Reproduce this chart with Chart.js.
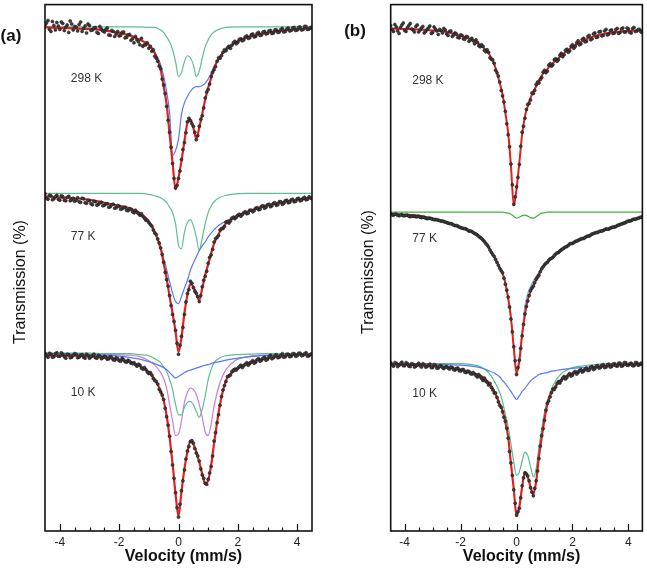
<!DOCTYPE html>
<html>
<head>
<meta charset="utf-8">
<script src="https://cdn.jsdelivr.net/npm/chart.js@4.4.1/dist/chart.umd.min.js"></script>
<style>
  html, body { margin: 0; padding: 0; background: #fff; }
  #wrap { position: relative; width: 647px; height: 568px; overflow: hidden; }
  canvas { position: absolute; top: 0; }
  #chartA { left: 0; }
  #chartB { left: 330px; }
</style>
</head>
<body>
<div id="wrap">
  <canvas id="chartA" width="330" height="568"></canvas>
  <canvas id="chartB" width="317" height="568"></canvas>
</div>
<script>
// velocity channels of the measured points (mm/s)
const velocity = [
  -4.5,-4.4,-4.3,-4.2,-4.1,-4.0,-3.9,-3.8,-3.7,-3.6,
  -3.5,-3.4,-3.3,-3.2,-3.1,-3.0,-2.9,-2.8,-2.7,-2.6,
  -2.5,-2.4,-2.3,-2.2,-2.1,-2.0,-1.9,-1.8,-1.7,-1.6,
  -1.5,-1.4,-1.3,-1.2,-1.1,-1.0,-0.9,-0.8,-0.7,-0.6,
  -0.5,-0.4,-0.3,-0.2,-0.1,0.0,0.1,0.2,0.3,0.4,
  0.5,0.6,0.7,0.8,0.9,1.0,1.1,1.2,1.3,1.4,
  1.5,1.6,1.7,1.8,1.9,2.0,2.1,2.2,2.3,2.4,
  2.5,2.6,2.7,2.8,2.9,3.0,3.1,3.2,3.3,3.4,
  3.5,3.6,3.7,3.8,3.9,4.0,4.1,4.2,4.3,4.4,
  4.5
];
// the in-between channels
const velocityHalf = [
  -4.45,-4.35,-4.25,-4.15,-4.05,-3.95,-3.85,-3.75,-3.65,-3.55,
  -3.45,-3.35,-3.25,-3.15,-3.05,-2.95,-2.85,-2.75,-2.65,-2.55,
  -2.45,-2.35,-2.25,-2.15,-2.05,-1.95,-1.85,-1.75,-1.65,-1.55,
  -1.45,-1.35,-1.25,-1.15,-1.05,-0.95,-0.85,-0.75,-0.65,-0.55,
  -0.45,-0.35,-0.25,-0.15,-0.05,0.05,0.15,0.25,0.35,0.45,
  0.55,0.65,0.75,0.85,0.95,1.05,1.15,1.25,1.35,1.45,
  1.55,1.65,1.75,1.85,1.95,2.05,2.15,2.25,2.35,2.45,
  2.55,2.65,2.75,2.85,2.95,3.05,3.15,3.25,3.35,3.45,
  3.55,3.65,3.75,3.85,3.95,4.05,4.15,4.25,4.35,4.45
];
// velocities where the fitted curves are sampled
const fitVelocity = [-4.5,-4,-3.5,-3,-2.5,-2,-1.6,-1.3,-1,-0.8,-0.6,-0.5,-0.4,-0.3,-0.2,-0.1,0,
  0.1,0.2,0.3,0.4,0.5,0.6,0.7,0.8,0.9,1,1.1,1.2,1.4,1.6,1.9,2.3,2.8,3.4,4,4.5];

// ---- (a) measured transmission, stacked (arb. units) ----
const dataA298 = [
  101.9,102.8,100.6,101.8,102.4,101.0,102.2,101.5,100.4,102.1,
  101.6,100.7,102.5,101.2,100.3,101.8,100.9,101.4,100.2,101.1,
  100.5,101.3,99.8,100.6,100.1,99.7,100.4,99.3,99.9,98.8,
  98.3,98.9,97.9,97.6,97.9,97.2,96.6,95.6,94.6,93.1,
  89.8,85.5,80.3,74.0,69.1,71.0,74.8,78.2,82.4,82.6,
  81.5,78.8,81.5,83.6,87.2,88.9,91.5,92.9,94.6,95.2,
  96.4,96.7,97.6,97.8,98.6,98.4,99.1,98.9,99.7,99.3,
  100.1,99.6,100.4,99.9,100.6,100.2,100.8,100.3,100.9,100.5,
  101.2,100.6,101.3,100.8,101.4,100.9,101.5,101.0,101.6,101.1,
  101.5
];
const dataA298h = [
  102.3,101.0,102.6,100.9,101.7,102.5,100.8,101.9,102.7,100.9,
  101.5,102.0,100.6,101.7,102.1,100.8,101.3,100.4,101.6,100.7,
  101.0,99.9,100.8,99.6,100.6,99.8,100.5,99.4,100.0,99.1,
  99.6,98.5,99.2,97.9,98.3,97.6,96.9,95.2,93.6,91.0,
  88.1,82.7,77.3,71.0,69.6,72.5,76.8,80.2,83.1,82.0,
  80.3,79.6,82.9,85.2,88.4,90.0,92.4,93.5,95.3,95.7,
  96.9,97.3,97.2,98.3,98.1,99.0,98.7,99.5,99.2,99.9,
  99.5,100.2,99.8,100.5,100.1,100.7,100.2,100.9,100.4,101.0,
  100.5,101.1,100.7,101.3,100.8,101.4,100.9,101.6,101.0,101.4
];
const dataA77 = [
  67.9,66.8,67.5,66.9,67.6,66.6,67.3,66.5,67.4,66.7,
  66.4,67.1,66.2,66.9,66.0,66.5,65.7,66.3,65.8,66.2,
  65.6,65.9,65.3,65.8,65.1,65.4,64.9,65.2,64.5,64.8,
  64.1,64.2,63.6,63.4,62.6,62.1,61.4,60.0,58.8,57.0,
  54.1,50.6,47.4,43.6,40.4,35.6,39.2,43.6,47.8,50.3,
  49.0,47.9,46.2,49.2,51.3,53.9,55.6,58.2,59.1,60.6,
  60.9,62.2,62.0,63.0,62.9,63.6,63.4,64.1,63.9,64.6,
  64.3,65.0,64.7,65.4,65.0,65.7,65.3,66.0,65.6,66.3,
  65.8,66.5,66.1,66.7,66.3,66.9,66.5,67.0,66.7,67.3,
  66.9
];
const dataA77h = [
  67.0,67.6,66.7,67.3,66.8,67.5,66.6,67.2,66.5,67.0,
  66.6,66.3,67.0,66.1,66.6,65.9,66.4,65.6,66.1,65.5,
  65.9,65.2,65.7,65.0,65.5,64.8,65.1,64.6,64.9,64.3,
  64.6,63.9,63.9,63.0,62.5,61.7,60.6,59.7,58.0,55.7,
  52.1,49.3,45.4,42.2,37.8,37.4,41.0,46.1,48.6,49.9,
  48.3,47.2,47.4,50.5,52.3,55.1,56.7,58.9,59.5,60.9,
  61.3,62.3,62.4,63.2,63.2,63.8,63.7,64.3,64.0,64.6,
  64.5,65.1,64.8,65.5,65.2,65.8,65.5,66.1,65.7,66.3,
  66.0,66.6,66.2,66.8,66.4,67.0,66.6,67.2,66.8,67.1
];
const dataA10 = [
  35.8,35.0,35.6,35.1,35.9,35.2,35.6,34.8,35.5,35.0,
  35.7,34.9,35.4,35.0,35.6,34.8,35.3,34.9,35.4,34.7,
  35.2,34.6,35.1,34.5,34.9,34.3,34.8,34.1,34.4,33.8,
  33.9,33.2,33.4,32.6,32.5,31.7,31.4,30.3,29.6,28.0,
  26.5,23.0,19.1,13.3,7.7,2.8,8.1,12.3,16.1,18.0,
  17.7,15.7,14.1,11.3,9.6,10.4,13.0,18.1,21.8,25.3,
  28.4,30.1,31.2,32.1,32.6,32.8,33.4,33.3,33.9,33.7,
  34.3,34.0,34.7,34.4,35.0,34.6,35.4,34.9,35.5,35.0,
  35.7,35.1,35.6,35.2,35.7,35.3,35.8,35.4,35.9,35.3,
  35.7
];
const dataA10h = [
  35.3,35.8,35.0,35.7,35.2,35.9,35.1,35.6,34.9,35.4,
  35.6,35.0,35.5,34.8,35.3,35.1,35.6,34.8,35.2,34.9,
  35.0,34.7,34.9,34.4,34.7,34.2,34.5,34.0,34.2,33.7,
  33.5,33.6,32.8,32.9,32.0,31.9,30.7,30.1,28.5,27.4,
  24.7,21.3,16.0,10.6,4.7,5.4,10.1,14.5,17.0,18.2,
  16.6,15.1,12.5,10.6,9.4,11.7,15.1,19.8,23.4,27.1,
  29.3,31.1,31.4,32.4,32.4,33.1,32.9,33.6,33.4,34.0,
  33.8,34.5,34.2,34.8,34.4,35.1,34.7,35.3,34.9,35.4,
  35.0,35.6,35.1,35.7,35.2,35.8,35.3,35.7,35.2,35.6
];
// ---- (a) fits ----
const fitA298   = [101.4,101.3,101.2,101.1,100.8,100.3,99.7,98.9,97.9,96.2,92.9,89.5,85.9,79.9,74.2,68.8,71.2,
  74.5,78.5,82.2,82.9,81.2,79.0,81.2,83.9,86.9,89.2,91.2,93.2,95.5,96.9,98.3,99.4,100.1,100.7,101.0,101.2];
const blueA298  = [101.4,101.3,101.2,101.1,100.8,100.3,99.7,98.9,98.0,96.5,93.9,91.5,88.5,84.2,75.6,76.6,78.9,
  83.9,86.2,87.5,88.5,89.2,89.5,89.5,89.7,90.2,91.0,92.2,93.5,95.7,96.9,98.3,99.4,100.1,100.7,101.0,101.2];
const greenA298 = [101.5,101.5,101.5,101.5,101.5,101.5,101.5,101.5,101.4,101.4,100.9,100.4,99.5,98.5,96.9,94.5,91.5,
  92.3,94.5,95.7,95.3,93.9,91.5,92.6,95.2,97.5,98.9,99.9,100.5,101.1,101.4,101.5,101.5,101.5,101.5,101.5,101.5];
const fitA77    = [67.4,67.2,67.0,66.7,66.1,65.5,64.9,64.0,62.3,60.2,56.9,53.9,50.9,47.2,43.9,40.2,36.0,
  38.9,43.9,47.5,49.7,49.2,47.7,46.5,48.9,51.5,53.7,55.9,57.9,60.3,61.9,63.3,64.2,65.3,66.1,66.7,67.1];
const blueA77   = [67.4,67.2,67.0,66.7,66.1,65.5,64.9,64.0,62.4,60.2,57.1,54.9,52.7,50.2,47.9,46.2,45.8,
  47.2,48.9,50.5,52.5,53.9,55.2,56.5,57.4,58.2,59.2,60.0,60.7,61.7,62.4,63.3,64.3,65.3,66.1,66.7,67.1];
const greenA77  = [68.0,68.0,68.0,68.0,68.0,68.0,68.0,68.0,67.8,67.5,67.1,66.7,66.1,65.2,64.1,61.9,57.6,
  56.8,60.2,62.1,62.7,61.5,59.2,56.5,59.0,61.9,64.1,65.4,66.3,67.2,67.6,67.9,68.0,68.0,68.0,68.0,68.0];
const fitA10    = [35.4,35.3,35.3,35.2,35.0,34.5,34.0,33.2,32.0,30.5,28.2,26.3,23.2,18.9,13.5,7.5,3.0,
  7.9,12.5,15.9,18.1,17.5,15.9,13.9,11.5,9.5,10.2,13.2,17.7,25.5,30.3,32.3,33.7,34.6,35.1,35.5,35.5];
const blueA10   = [35.7,35.7,35.6,35.5,35.4,35.2,34.9,34.6,34.1,33.7,33.2,32.9,32.5,31.9,31.3,30.8,31.1,
  31.5,31.9,32.2,32.4,32.6,32.8,33.0,33.2,33.4,33.5,33.7,33.9,34.1,34.4,34.7,35.0,35.3,35.4,35.5,35.5];
const greenA10  = [35.8,35.8,35.8,35.8,35.7,35.7,35.7,35.5,35.3,34.7,33.9,33.0,32.1,30.5,28.5,25.5,23.4,
  23.4,24.9,25.9,26.1,25.4,24.1,22.9,24.5,27.2,30.5,32.5,33.9,34.9,35.3,35.5,35.6,35.7,35.7,35.7,35.7];
const pinkA10   = [35.7,35.7,35.7,35.7,35.6,35.5,35.4,35.1,34.3,33.4,31.9,30.7,28.7,25.5,22.2,19.2,19.5,
  22.2,25.9,27.9,28.8,28.5,27.5,25.5,22.9,19.9,19.2,21.5,25.2,29.9,32.5,34.3,35.1,35.4,35.5,35.7,35.7];

// ---- (b) measured transmission ----
const dataB298 = [
  101.8,100.6,101.5,100.2,101.9,100.8,101.4,102.2,100.9,101.6,
  100.5,101.3,100.3,101.0,101.7,100.4,101.1,100.0,100.8,101.2,
  100.1,100.6,99.6,100.3,99.4,99.9,99.1,99.6,98.6,99.2,
  98.1,98.4,97.5,97.6,96.5,96.4,95.0,94.2,92.3,90.4,
  87.6,84.5,79.8,73.9,65.8,69.3,73.8,80.3,83.1,85.9,
  86.8,88.1,89.9,90.2,91.3,92.8,92.6,94.1,93.9,95.1,
  94.9,96.2,95.9,97.0,96.7,97.9,97.6,98.7,98.1,99.2,
  98.6,99.8,99.1,100.3,99.5,100.6,99.8,101.0,100.1,100.9,
  100.3,101.2,100.4,101.3,100.5,101.1,100.3,101.4,100.7,101.0,
  100.4
];
const dataB298h = [
  101.0,102.0,100.7,101.4,102.3,100.6,101.8,101.1,100.5,101.9,
  100.9,101.6,100.6,101.3,100.2,101.5,100.7,101.0,100.3,100.9,
  99.8,100.7,99.9,100.1,99.3,99.8,99.0,99.5,98.9,98.7,
  98.9,97.7,97.9,96.8,96.9,95.3,94.9,92.8,91.6,88.7,
  86.4,82.0,77.4,69.7,67.3,71.2,77.5,81.5,84.9,86.1,
  88.2,88.7,90.4,90.9,92.4,92.3,93.8,93.6,94.9,94.6,
  95.8,95.5,96.8,96.4,97.6,97.2,98.3,97.9,99.0,98.5,
  99.6,98.9,100.1,99.4,100.5,99.7,100.7,99.9,100.8,100.2,
  101.0,100.2,101.1,100.5,101.3,100.4,101.2,100.6,101.0,100.5
];
const dataB77 = [
  63.9,63.6,63.8,63.5,63.7,63.5,63.6,63.3,63.4,63.3,
  63.4,63.1,63.2,62.9,63.0,62.8,62.7,62.6,62.4,62.3,
  62.1,61.9,61.8,61.5,61.4,61.1,60.9,60.8,60.4,60.3,
  59.9,59.6,59.1,58.6,57.9,57.2,56.1,55.3,54.1,52.9,
  52.0,49.7,47.1,42.7,37.1,31.5,34.4,39.3,43.7,46.3,
  48.4,49.3,50.7,51.5,52.8,53.6,54.1,54.8,55.1,55.8,
  56.1,56.6,57.0,57.3,57.8,57.9,58.3,58.5,58.8,58.9,
  59.3,59.4,59.8,60.0,60.1,60.4,60.5,60.8,60.8,61.1,
  61.2,61.5,61.7,61.9,62.1,62.4,62.5,62.8,62.9,63.1,
  63.3
];
const dataB77h = [
  63.7,63.8,63.6,63.6,63.5,63.6,63.4,63.4,63.4,63.3,
  63.2,63.2,63.0,63.0,62.9,62.7,62.7,62.5,62.4,62.2,
  62.0,61.9,61.6,61.5,61.2,61.0,60.9,60.6,60.4,60.1,
  59.8,59.3,58.9,58.3,57.6,56.6,55.7,54.7,53.5,52.4,
  50.9,48.5,45.1,40.1,34.3,32.9,36.8,41.6,45.2,47.4,
  48.9,50.0,51.1,52.2,53.2,53.9,54.5,54.9,55.5,56.0,
  56.4,56.8,57.2,57.5,57.9,58.1,58.4,58.7,58.9,59.1,
  59.4,59.6,59.9,60.1,60.3,60.4,60.7,60.8,61.0,61.2,
  61.3,61.6,61.8,62.0,62.3,62.4,62.7,62.8,63.0,63.2
];
const dataB10 = [
  33.9,33.2,33.8,33.4,34.0,33.3,33.7,33.1,33.6,33.2,
  33.8,33.0,33.5,33.1,33.6,32.9,33.4,32.8,33.3,32.7,
  33.1,32.6,32.9,32.4,32.8,32.2,32.5,31.9,32.1,31.6,
  31.6,31.0,31.1,30.3,30.2,29.4,28.9,27.8,26.9,25.3,
  24.0,22.1,18.7,13.7,8.3,3.2,4.6,9.1,11.7,11.1,
  8.7,7.1,10.1,14.6,19.2,22.3,25.7,27.0,28.6,29.0,
  30.1,30.3,31.1,30.9,31.7,31.4,32.1,31.9,32.5,32.2,
  32.8,32.4,33.1,32.7,33.3,32.9,33.5,33.0,33.6,33.1,
  33.7,33.2,33.8,33.3,33.9,33.4,33.8,33.3,33.9,33.5,
  33.7
];
const dataB10h = [
  33.5,33.9,33.1,33.7,33.3,33.9,33.2,33.7,33.0,33.5,
  33.3,33.7,33.0,33.4,32.9,33.5,32.8,33.2,32.9,33.0,
  32.8,33.0,32.5,32.7,32.3,32.5,32.0,32.2,31.7,31.9,
  31.3,31.5,30.7,30.8,29.9,29.7,28.4,27.8,26.0,24.9,
  22.9,20.7,16.0,11.2,5.6,3.9,6.7,10.7,11.5,10.1,
  7.8,8.6,12.1,17.1,20.6,24.3,26.2,27.9,28.5,29.7,
  29.8,30.8,30.6,31.4,31.2,31.9,31.6,32.3,32.0,32.6,
  32.3,33.0,32.5,33.2,32.8,33.4,32.9,33.5,33.0,33.6,
  33.3,33.8,33.2,33.9,33.4,33.7,33.3,33.9,33.4,33.8
];
// ---- (b) fits ----
const fitB298   = [101.2,101.1,101.0,100.8,100.5,99.7,98.9,97.9,96.2,94.0,90.2,87.9,84.2,80.2,73.5,65.6,68.9,
  74.2,79.9,83.5,85.5,87.2,88.5,89.5,90.7,91.7,92.4,93.0,93.7,94.7,95.7,97.1,98.5,99.7,100.4,100.7,100.8];
const fitB77    = [63.8,63.7,63.5,62.9,62.2,61.1,60.3,59.2,57.1,55.2,53.0,51.9,49.9,46.9,42.9,36.9,31.7,
  34.2,39.5,43.5,46.5,48.2,49.5,50.5,51.7,52.9,53.5,54.2,54.7,55.7,56.7,57.7,58.7,60.0,61.0,62.5,63.2];
const blueB77   = [63.8,63.7,63.5,62.9,62.2,61.1,60.3,59.2,57.1,55.2,53.0,51.9,49.9,46.9,42.9,37.2,32.5,
  35.2,40.2,45.2,47.7,49.2,50.3,51.2,52.1,53.0,53.6,54.2,54.7,55.7,56.7,57.7,58.7,60.0,61.0,62.5,63.2];
const greenB77  = [64.2,64.2,64.2,64.2,64.2,64.2,64.2,64.2,64.2,64.2,64.2,64.2,64.1,64.0,63.8,63.4,63.0,
  63.2,63.5,63.6,63.4,63.1,63.0,63.3,63.7,64.0,64.1,64.2,64.2,64.2,64.2,64.2,64.2,64.2,64.2,64.2,64.2];
const fitB10    = [33.5,33.5,33.4,33.2,33.0,32.5,31.9,31.3,29.9,28.2,25.5,24.2,21.9,18.9,13.5,8.5,3.0,
  4.9,8.9,11.9,10.9,8.9,7.4,9.9,14.9,18.9,22.5,25.5,27.2,29.2,30.5,31.5,32.3,32.9,33.3,33.5,33.5];
const blueB10   = [33.7,33.7,33.7,33.6,33.5,33.4,33.2,32.9,32.3,31.8,31.0,30.3,29.7,28.9,28.1,27.2,26.5,
  27.2,28.1,28.7,29.5,30.2,30.7,31.1,31.5,31.7,31.8,31.9,32.1,32.3,32.5,32.7,32.9,33.1,33.3,33.5,33.5];
const greenB10  = [33.7,33.7,33.7,33.7,33.7,33.7,33.5,33.1,31.9,30.2,27.9,26.0,23.5,21.0,17.5,13.9,11.2,
  11.9,14.1,15.9,15.2,13.0,10.9,12.5,16.9,20.5,23.9,26.2,27.9,30.3,31.7,32.7,33.2,33.5,33.7,33.7,33.7];

const velocityTicks = [-4, -2, 0, 2, 4];
const FONT = '"Liberation Sans", Arial, Helvetica, sans-serif';
const RED = '#e3211c';

const pts = (xs, ys) => ys.map((y, i) => ({ x: xs[i], y }));

function curve(ys, color, width, order) {
  return {
    data: pts(fitVelocity, ys), borderColor: color, borderWidth: width,
    pointRadius: 0, fill: false, showLine: true,
    cubicInterpolationMode: 'monotone', order
  };
}
function dots(ys, ysHalf) {
  return {
    data: pts(velocity, ys).concat(pts(velocityHalf, ysHalf)), showLine: false, pointRadius: 1.5,
    pointBackgroundColor: '#3c3c3c', pointBorderColor: '#1c1c1c',
    pointBorderWidth: 0.6, order: 0
  };
}

// box, inward ticks, titles and spectrum labels
const framePlugin = {
  id: 'frame',
  afterDraw(chart, args, o) {
    const { ctx, chartArea: a, scales: { x, y } } = chart;
    ctx.save();
    ctx.strokeStyle = '#111';
    ctx.lineWidth = 1.2;
    for (let i = -9; i <= 9; i++) {
      const v = i / 2;
      if (Math.abs(v) === 4.5) continue;
      const px = Math.round(x.getPixelForValue(v)) + 0.5;
      const len = (i % 4 === 0) ? 7 : 3.5;
      ctx.beginPath();
      ctx.moveTo(px, a.bottom);
      ctx.lineTo(px, a.bottom - len);
      ctx.stroke();
    }
    ctx.lineWidth = 1.6;
    ctx.strokeRect(a.left, a.top, a.right - a.left, a.bottom - a.top);

    ctx.fillStyle = '#111';
    ctx.textAlign = 'center';
    ctx.textBaseline = 'middle';
    ctx.font = 'bold 16px ' + FONT;
    ctx.fillText('Velocity (mm/s)', (a.left + a.right) / 2 + 5, 557);
    ctx.font = 'bold 17px ' + FONT;
    ctx.fillText(o.letter, o.letterX, o.letterY);

    ctx.save();
    ctx.translate(o.yTitleX, o.yTitleY);
    ctx.rotate(-Math.PI / 2);
    ctx.font = '16px ' + FONT;
    ctx.fillText('Transmission (%)', 0, 0);
    ctx.restore();

    ctx.fillStyle = '#333';
    ctx.textAlign = 'left';
    ctx.font = '12px ' + FONT;
    o.temps.forEach(t => ctx.fillText(t.text, x.getPixelForValue(t.v), y.getPixelForValue(t.t)));
    ctx.restore();
  }
};

function makeChart(id, datasets, padding, frame) {
  return new Chart(document.getElementById(id), {
    type: 'line',
    data: { datasets },
    options: {
      responsive: false,
      animation: false,
      events: [],
      layout: { padding },
      scales: {
        x: {
          type: 'linear', min: -4.5, max: 4.5,
          afterBuildTicks: s => { s.ticks = velocityTicks.map(value => ({ value })); },
          afterFit: s => { s.height = 37; },
          grid: { display: false, drawTicks: false },
          border: { display: false },
          ticks: { padding: 4, color: '#222', font: { family: FONT, size: 12 }, callback: v => String(v) }
        },
        y: { type: 'linear', min: 0, max: 106, display: false }
      },
      plugins: { legend: { display: false }, tooltip: { enabled: false }, frame }
    },
    plugins: [framePlugin]
  });
}

makeChart('chartA', [
  curve(greenA298, '#5dbf92', 1.2, 3), curve(blueA298, '#5a78f0', 1.2, 2), curve(fitA298, RED, 2.2, 1), dots(dataA298, dataA298h),
  curve(greenA77, '#5dbf92', 1.2, 3), curve(blueA77, '#5a78f0', 1.2, 2), curve(fitA77, RED, 2.2, 1), dots(dataA77, dataA77h),
  curve(greenA10, '#5dbf92', 1.2, 3), curve(pinkA10, '#c57fd9', 1.2, 3), curve(blueA10, '#5a78f0', 1.2, 2),
  curve(fitA10, RED, 2.2, 1), dots(dataA10, dataA10h)
], { left: 45, right: 18, top: 1, bottom: 0 }, {
  letter: '(a)', letterX: 11, letterY: 36, yTitleX: 21, yTitleY: 282,
  temps: [{ text: '298 K', v: -3.63, t: 91.0 }, { text: '77 K', v: -3.63, t: 59.2 }, { text: '10 K', v: -3.63, t: 27.8 }]
});

makeChart('chartB', [
  curve(fitB298, RED, 2.0, 1), dots(dataB298, dataB298h),
  curve(greenB77, '#3db43d', 1.2, 3), curve(blueB77, '#6fb1e8', 1.4, 2), curve(fitB77, RED, 2.0, 1), dots(dataB77, dataB77h),
  curve(greenB10, '#4fbf8f', 1.2, 3), curve(blueB10, '#5a78f0', 1.2, 2), curve(fitB10, RED, 2.2, 1), dots(dataB10, dataB10h)
], { left: 60.7, right: 1.5, top: 1, bottom: 0 }, {
  letter: '(b)', letterX: 25, letterY: 31, yTitleX: 39, yTitleY: 272,
  temps: [{ text: '298 K', v: -3.73, t: 90.6 }, { text: '77 K', v: -3.73, t: 58.8 }, { text: '10 K', v: -3.73, t: 27.6 }]
});
</script>
</body>
</html>
